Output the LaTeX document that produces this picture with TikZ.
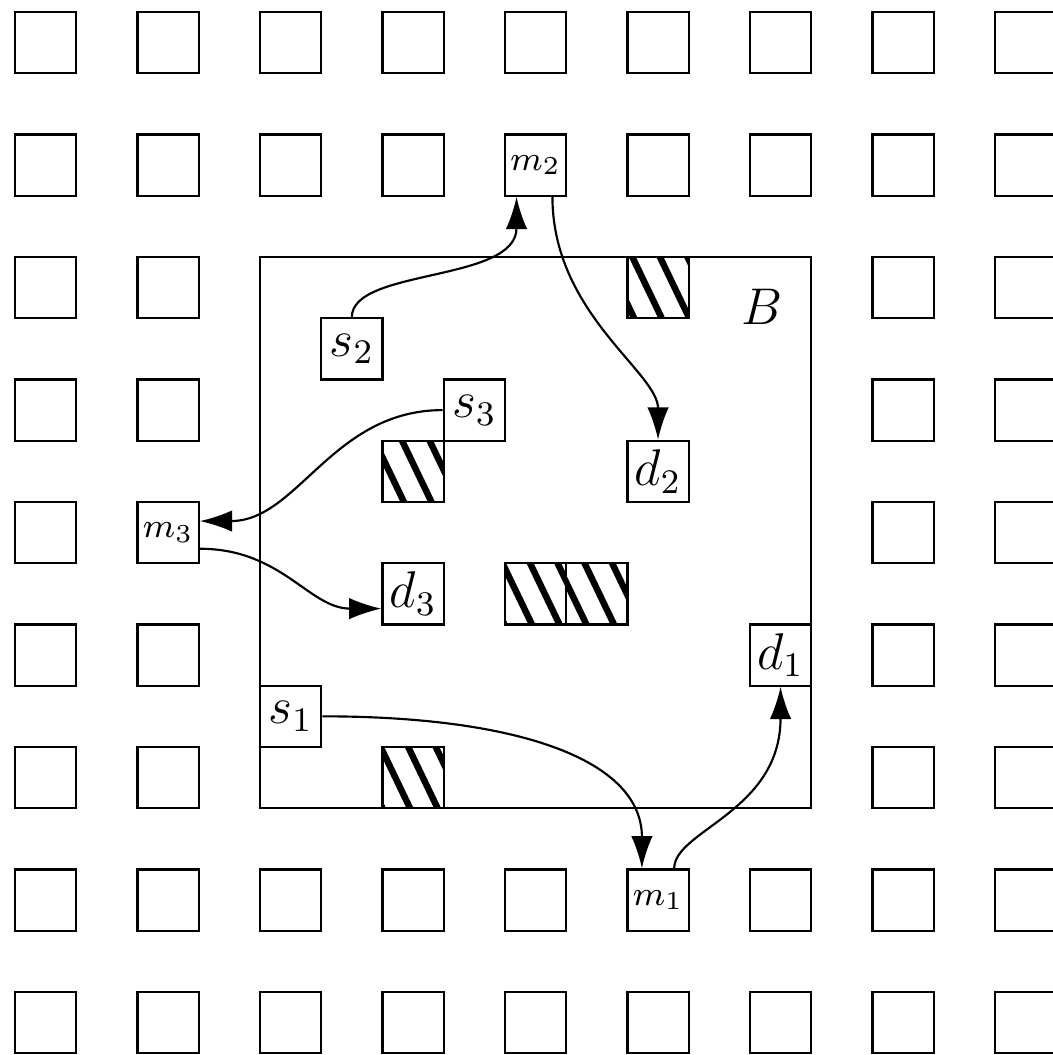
\documentclass[tikz,border=0pt]{standalone}
\usepackage{amsmath}
\usetikzlibrary{arrows.meta,positioning,calc}

\tikzset{
    cell/.style={draw, line width=0.5pt, minimum size=0.5cm, inner sep=0pt},
    term/.style={cell, fill=white, font=\large},
    hub/.style={cell, fill=white, font=\footnotesize},
    hatch/.style={line width=1.5pt},
    flow/.style={-{Latex[length=7.5pt,width=5pt]}, line width=0.5pt}
}

\begin{document}
\begin{tikzpicture}[x=0.5cm, y=0.5cm]
    \useasboundingbox (-0.245,0.196) rectangle (16.947,-17.03);

    % Grid of cells (left out inside B)
    \foreach \i in {0,...,8}
      \foreach \j in {0,...,8} {
        \pgfmathtruncatemacro{\inside}{(\i>1)&&(\i<7)&&(\j>1)&&(\j<7)}
        \ifnum\inside=0
          \node[cell] (c-\i-\j) at (2*\i+0.5, -2*\j-0.5) {};
        \fi
      }

    % Box B
    \draw[line width=0.5pt] (4,-4) rectangle (13,-13);
    \node[font=\large] (lblB) at (12.2,-4.82) {$B$};

    % Hatched cells
    \foreach \i/\j/\p in {10/4/0.08, 6/7/0.32, 8/9/0.41, 9/9/0.3, 6/12/0.42} {
      \begin{scope}
        \clip (\i,-\j) rectangle ++(1,-1);
        \foreach \k in {-2,...,2}
          \draw[hatch] (\i+\p+0.45*\k-0.048, -\j+0.1) -- ++(0.576,-1.2);
      \end{scope}
      \draw[line width=0.5pt] (\i,-\j) rectangle ++(1,-1);
    }

    % Sources, destinations, meeting cells
    \node[term] (s1) at (4.5,-11.5) {$s_1$};
    \node[term] (s2) at (5.5,-5.5) {$s_2$};
    \node[term] (s3) at (7.5,-6.5) {$s_3$};
    \node[term] (d1) at (12.5,-10.5) {$d_1$};
    \node[term] (d2) at (10.5,-7.5) {$d_2$};
    \node[term] (d3) at (6.5,-9.5) {$d_3$};
    \node[hub] (m1) at (10.5,-14.5) {$m_1$};
    \node[hub] (m2) at (8.5,-2.5) {$m_2$};
    \node[hub] (m3) at (2.5,-8.5) {$m_3$};

    % Routes
    \draw[flow] (s2.north) .. controls +(0,0.8) and +(0,-1.4) .. (m2.239);
    \draw[flow] (m2.298) .. controls +(0,-1.9) and +(0,1.1) .. (d2.north);
    \draw[flow] (s3.west) .. controls +(-1.8,0) and +(1.6,0) .. (m3.20);
    \draw[flow] (m3.333) .. controls +(1.34,0) and +(-1.18,0) .. (d3.205);
    \draw[flow] (s1.east) .. controls +(3.23,0) and +(0,1.76) .. (m1.117);
    \draw[flow] (m1.63) .. controls +(0,0.62) and +(0,-2.04) .. (d1.south);
\end{tikzpicture}
\end{document}
